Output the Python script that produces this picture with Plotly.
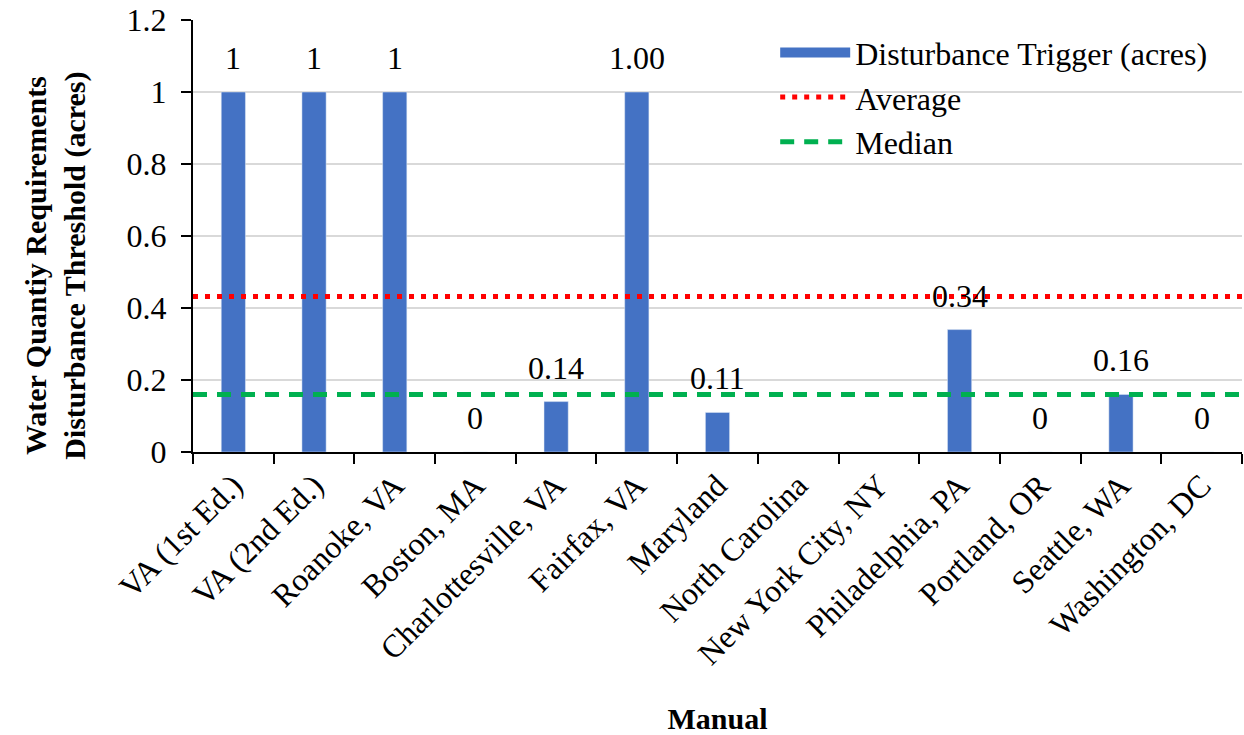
import numpy as np
import plotly.graph_objects as go

manuals = [
    "VA (1st Ed.)", "VA (2nd Ed.)", "Roanoke, VA", "Boston, MA",
    "Charlottesville, VA", "Fairfax, VA", "Maryland", "North Carolina",
    "New York City, NY", "Philadelphia, PA", "Portland, OR", "Seattle, WA",
    "Washington, DC",
]
trigger_acres = [1, 1, 1, 0, 0.14, 1.00, 0.11, None, None, 0.34, 0, 0.16, 0]
trigger_labels = ["1", "1", "1", "0", "0.14", "1.00", "0.11", "", "", "0.34", "0", "0.16", "0"]
y_ticks = [0, 0.2, 0.4, 0.6, 0.8, 1, 1.2]
y_tick_labels = ["0", "0.2", "0.4", "0.6", "0.8", "1", "1.2"]

known = np.array([v for v in trigger_acres if v is not None], dtype=float)
average = float(known.mean())
median = float(np.median(known))

FONT = "Liberation Serif"
BAR_COLOR = "#4472C4"
span = [-0.5, len(manuals) - 0.5]

fig = go.Figure()
fig.add_trace(go.Bar(
    x=manuals, y=trigger_acres, name="Disturbance Trigger (acres)",
    marker=dict(color=BAR_COLOR), width=0.3,
    showlegend=False, legendgroup="trigger",
))
# legend swatch for the bars: a wide filled band
fig.add_trace(go.Scatter(
    x=[None], y=[None], xaxis="x2", mode="lines", name="Disturbance Trigger (acres)",
    line=dict(color=BAR_COLOR, width=14), legendgroup="trigger", hoverinfo="skip",
))
fig.add_trace(go.Scatter(
    x=span, y=[average, average], xaxis="x2", mode="lines", name="Average",
    line=dict(color="#FF0000", width=5, dash="5px,7px"),
))
fig.add_trace(go.Scatter(
    x=span, y=[median, median], xaxis="x2", mode="lines", name="Median",
    line=dict(color="#00B050", width=5, dash="14px,10px"),
))

# value labels above each reported bar
for name, val, lab in zip(manuals, trigger_acres, trigger_labels):
    if val is None:
        continue
    fig.add_annotation(
        x=name, y=val, xref="x", yref="y", text=lab, showarrow=False,
        yanchor="bottom", yshift=14, font=dict(family=FONT, size=32, color="#000000"),
    )

# two-line value axis title
fig.add_annotation(
    xref="paper", yref="paper", x=-0.131, y=0.43, xanchor="center", yanchor="middle",
    text="<b>Water Quantiy Requirements<br>Disturbance Threshold (acres)</b>",
    textangle=-90, showarrow=False, font=dict(family=FONT, size=30, color="#000000"),
)

fig.update_layout(
    width=1244, height=735,
    margin=dict(l=193, r=2, t=20, b=283),
    paper_bgcolor="white", plot_bgcolor="white",
    font=dict(family=FONT, size=32, color="#000000"),
    showlegend=True,
    legend=dict(
        x=0.555, y=0.988, xanchor="left", yanchor="top",
        bgcolor="rgba(255,255,255,0)", font=dict(size=32),
        itemwidth=70, tracegroupgap=0,
    ),
    xaxis=dict(
        type="category", range=span,
        showline=True, linecolor="#000000", linewidth=2,
        ticks="outside", tickson="boundaries", ticklen=10, tickwidth=2, tickcolor="#000000",
        tickangle=-45, tickfont=dict(size=32),
        showgrid=False,
        title=dict(text="<b>Manual</b>", font=dict(size=30), standoff=38),
    ),
    xaxis2=dict(
        overlaying="x", range=span, visible=False, showgrid=False,
    ),
    yaxis=dict(
        range=[0, 1.2], tickvals=y_ticks, ticktext=y_tick_labels,
        showline=True, linecolor="#000000", linewidth=2,
        ticks="outside", ticklen=10, tickwidth=2, tickcolor="#000000",
        ticklabelstandoff=8,
        showgrid=True, gridcolor="#D9D9D9", gridwidth=2,
        zeroline=False, tickfont=dict(size=32),
    ),
    bargap=0.7,
)

fig.write_html("out.html")
